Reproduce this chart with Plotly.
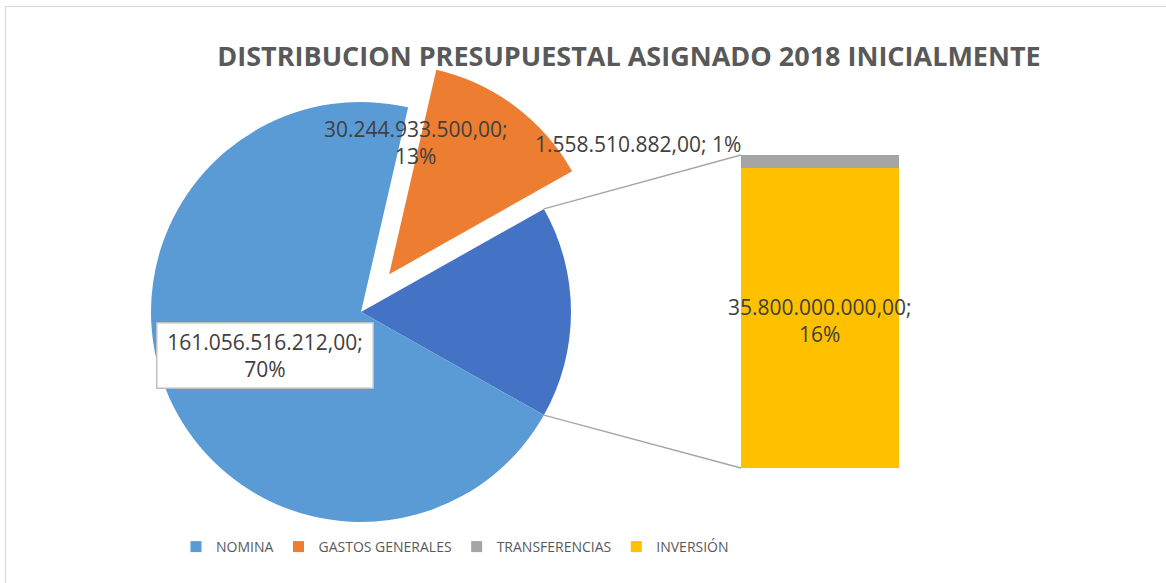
import math
import plotly.graph_objects as go

# ---------------- data ----------------
categories = ["NOMINA", "GASTOS GENERALES", "TRANSFERENCIAS", "INVERSIÓN"]
values = [161056516212.00, 30244933500.00, 1558510882.00, 35800000000.00]
colors = ["#5B9BD5", "#ED7D31", "#A5A5A5", "#FFC000"]
other_color = "#4472C4"
title_text = "DISTRIBUCION PRESUPUESTAL ASIGNADO 2018 INICIALMENTE"

W, H = 1166, 583
total = sum(values)
other_total = values[2] + values[3]


def fmt(v):
    s = f"{v:,.2f}"
    return s.replace(",", "X").replace(".", ",").replace("X", ".")


def pct(v):
    return f"{round(100 * v / total):.0f}%"


def px(x):
    return x / W


def py(y):
    return 1 - y / H


# ---------------- layout geometry ----------------
pie_cx, pie_cy, pie_r = 361, 312, 210
pull = 0.224
half = pie_r * (1 + pull)
pie_domain_x = [px(pie_cx - half), px(pie_cx + half)]
pie_domain_y = [py(pie_cy + half), py(pie_cy - half)]

bar_left, bar_right, bar_top, bar_bottom = 741, 899, 155, 468

other_frac = other_total / total
other_half_deg = 180 * other_frac  # half of the slice angle (slice centred at 3 o'clock)

fig = go.Figure()

# pie: "other" slice first, centred on 3 o'clock, then counter-clockwise
pie_labels = ["Otro", categories[1], categories[0]]
pie_values = [other_total, values[1], values[0]]
fig.add_trace(go.Pie(
    labels=pie_labels,
    values=pie_values,
    sort=False,
    direction="counterclockwise",
    rotation=90 - other_half_deg,
    pull=[0, pull, 0],
    marker=dict(colors=[other_color, colors[1], colors[0]], line=dict(width=0)),
    textinfo="none",
    hoverinfo="label+value+percent",
    domain=dict(x=pie_domain_x, y=pie_domain_y),
    showlegend=False,
))

# stacked bar of the "other" part
fig.add_trace(go.Bar(
    x=[0], y=[values[3]], width=1, name=categories[3],
    marker=dict(color=colors[3], line=dict(width=0)),
    showlegend=False, xaxis="x", yaxis="y",
))
fig.add_trace(go.Bar(
    x=[0], y=[values[2]], width=1, name=categories[2],
    marker=dict(color=colors[2], line=dict(width=0)),
    showlegend=False, xaxis="x", yaxis="y",
))

# legend entries
for name, c in zip(categories, colors):
    fig.add_trace(go.Scatter(
        x=[None], y=[None], mode="markers", name=name,
        marker=dict(symbol="square", size=11, color=c),
        xaxis="x", yaxis="y", hoverinfo="skip",
    ))

# connector lines from the pie "other" slice edges to the bar corners
shapes = []
for sign, by in ((1, bar_top), (-1, bar_bottom)):
    a = math.radians(sign * other_half_deg)
    x0 = pie_cx + pie_r * math.cos(a)
    y0 = pie_cy - pie_r * math.sin(a)
    shapes.append(dict(type="line", xref="paper", yref="paper",
                       x0=px(x0), y0=py(y0), x1=px(bar_left), y1=py(by),
                       line=dict(color="#A5A5A5", width=1.3), layer="below"))
# chart frame
shapes.append(dict(type="rect", xref="paper", yref="paper",
                   x0=px(5.5), x1=1.02, y0=-0.02, y1=py(6.5),
                   line=dict(color="#D9D9D9", width=1.2), fillcolor="rgba(0,0,0,0)"))

lab_font = dict(family="Open Sans", size=21, color="#404040")
annotations = [
    dict(text=f"{fmt(values[1])};<br>{pct(values[1])}", x=px(416), y=py(142),
         xref="paper", yref="paper", showarrow=False, font=lab_font,
         xanchor="center", yanchor="middle"),
    dict(text=f"{fmt(values[2])}; {pct(values[2])}", x=px(638), y=py(144),
         xref="paper", yref="paper", showarrow=False, font=lab_font,
         xanchor="center", yanchor="middle"),
    dict(text=f"{fmt(values[3])};<br>{pct(values[3])}", x=px(820), y=py(320),
         xref="paper", yref="paper", showarrow=False, font=lab_font,
         xanchor="center", yanchor="middle"),
    dict(text=f"{fmt(values[0])};<br>{pct(values[0])}", x=px(264.5), y=py(355),
         xref="paper", yref="paper", showarrow=False, font=lab_font,
         xanchor="center", yanchor="middle",
         bgcolor="#FFFFFF", bordercolor="#BFBFBF", borderwidth=1.5,
         borderpad=6, width=203, height=52),
]

fig.update_layout(
    width=W, height=H,
    margin=dict(l=0, r=0, t=0, b=0),
    paper_bgcolor="#FFFFFF", plot_bgcolor="rgba(0,0,0,0)",
    title=dict(text=f"<b>{title_text}</b>", x=px(629), y=py(57),
               xanchor="center", yanchor="middle",
               font=dict(family="Open Sans", size=27, color="#595959")),
    barmode="stack",
    xaxis=dict(domain=[px(bar_left), px(bar_right)], range=[-0.5, 0.5],
               visible=False, fixedrange=True),
    yaxis=dict(domain=[py(bar_bottom), py(bar_top)], range=[0, other_total],
               visible=False, fixedrange=True),
    legend=dict(orientation="h", x=px(455), y=py(547), xanchor="center",
                yanchor="middle", font=dict(family="Open Sans", size=14, color="#595959"),
                bgcolor="rgba(0,0,0,0)", traceorder="normal", itemwidth=30),
    shapes=shapes,
    annotations=annotations,
    showlegend=True,
)

fig.write_html("out.html",
               config={"displayModeBar": False},
               post_script="document.body.style.margin='0';document.body.style.overflow='hidden';")
